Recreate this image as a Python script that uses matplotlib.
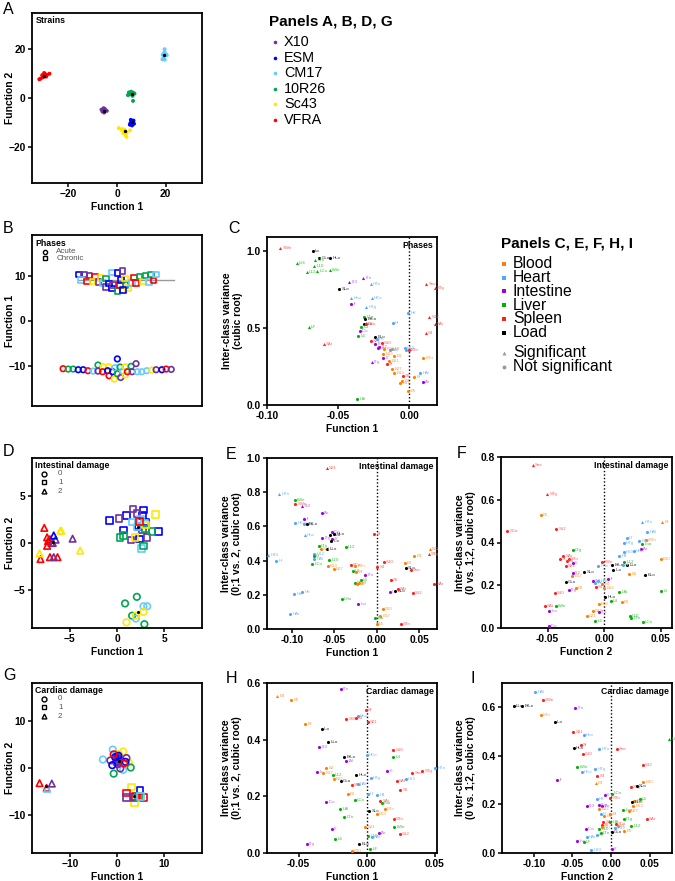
import numpy as np
import matplotlib.pyplot as plt

plt.rcParams['font.family'] = ['Liberation Sans', 'DejaVu Sans']
plt.rcParams['font.weight'] = 'bold'
plt.rcParams['axes.labelweight'] = 'bold'

# ---------------- categories / colours ----------------
strain_names = ['X10', 'ESM', 'CM17', '10R26', 'Sc43', 'VFRA']
strain_colors = ['#7030A0', '#0000FF', '#66CCFF', '#00A651', '#FFE800', '#FF0000']
organ_names = ['Blood', 'Heart', 'Intestine', 'Liver', 'Spleen', 'Load']
organ_colors = ['#FF8000', '#4DA6FF', '#A000E0', '#00B400', '#FF2020', '#000000']
organ_text = ['#F7A050', '#7DB8F5', '#C070EE', '#40C040', '#FF6060', '#333333']

# ---------------- panel A: strains ----------------
a_strain = (['VFRA'] * 9 + ['CM17'] * 9 + ['10R26'] * 9 + ['X10'] * 8 + ['ESM'] * 8 + ['Sc43'] * 9)
a_x = [-32, -30.5, -30, -29.5, -28.8, -27.8, -29.2, -30.8, -31.5,
       19.6, 19.6, 18.8, 20.5, 19.2, 18.7, 19.7, 19.4, 20.2,
       5.2, 4.5, 5.8, 6.7, 7.2, 6.4, 6.6, 5.5, 4.9,
       -5.5, -6.4, -4.8, -5.3, -4.2, -6.0, -5.0, -5.6,
       5.7, 6.8, 5.5, 7.0, 6.2, 5.9, 6.6, 5.3,
       0.7, 1.8, 2.6, 3.6, 4.0, 5.4, 3.2, 3.9, 2.4]
a_y = [7.7, 8.5, 10.3, 9.8, 9.5, 10.0, 8.8, 9.4, 8.0,
       20.1, 19.0, 17.8, 17.6, 16.5, 15.9, 15.8, 18.5, 18.0,
       1.5, 1.2, 2.6, 2.2, 1.8, 0.9, -1.2, 2.0, 2.3,
       -4.2, -4.8, -5.1, -6.0, -5.3, -5.6, -4.5, -5.4,
       -9.0, -9.3, -10.4, -10.6, -11.3, -9.8, -10.0, -11.0,
       -12.4, -13.0, -14.5, -15.3, -14.2, -13.3, -13.2, -16.0, -12.8]
a_cx = [-30, 19.4, 6.0, -5.2, 6.3, 3.5]
a_cy = [9.0, 17.9, 1.6, -5.2, -10.0, -13.5]

# ---------------- panel B: phases ----------------
b_chr_strain = ['ESM', 'X10', 'CM17', 'X10', 'VFRA', 'VFRA', 'Sc43', 'X10', 'Sc43', 'CM17',
                '10R26', 'X10', 'ESM', 'CM17', 'ESM', 'X10', 'ESM', '10R26', 'VFRA', 'ESM',
                'X10', '10R26', 'Sc43', 'Sc43', 'ESM', 'CM17', 'VFRA', 'VFRA', '10R26', 'Sc43',
                '10R26', 'CM17', '10R26', 'VFRA', 'CM17']
b_chr_pos = [.276, .307, .287, .337, .325, .370, .356, .390, .404, .419,
             .435, .435, .453, .469, .470, .478, .502, .502, .518, .522,
             .533, .549, .547, .565, .535, .589, .600, .612, .632, .652,
             .667, .687, .699, .715, .730]
b_chr_val = [10.19, 10.19, 8.99, 10.04, 8.69, 9.74, 8.69, 8.54, 9.44, 8.39,
             9.36, 7.49, 8.24, 10.64, 7.12, 7.94, 10.56, 6.52, 7.87, 9.06,
             11.01, 7.94, 9.36, 7.19, 6.74, 8.31, 9.59, 8.39, 9.81, 8.69,
             9.96, 8.61, 10.19, 8.84, 10.26]
b_acu_strain = ['VFRA', '10R26', '10R26', 'ESM', 'ESM', 'VFRA', 'CM17', '10R26', 'X10', 'Sc43',
                'VFRA', 'Sc43', 'ESM', 'VFRA', 'ESM', 'Sc43', 'CM17', 'ESM', '10R26', '10R26',
                'X10', 'CM17', 'Sc43', 'Sc43', 'VFRA', '10R26', 'X10', 'X10', 'CM17', 'CM17',
                'CM17', 'Sc43', 'X10', 'ESM', 'VFRA', 'X10']
b_acu_pos = [.183, .213, .242, .272, .301, .329, .360, .388, .388, .419,
             .415, .451, .445, .453, .474, .484, .488, .502, .502, .518,
             .522, .533, .549, .549, .561, .583, .589, .612, .620, .646,
             .675, .705, .730, .764, .789, .819]
b_acu_val = [-10.71, -10.79, -10.79, -10.94, -10.94, -11.16, -11.24, -9.89, -11.24, -10.26,
             -11.39, -10.26, -11.16, -12.28, -11.39, -13.03, -10.49, -8.54, -11.84, -10.34,
             -12.66, -11.24, -10.26, -12.13, -11.39, -10.19, -11.39, -9.59, -11.39, -11.39,
             -11.16, -11.01, -10.94, -10.94, -10.79, -10.86]
b_line = [0.276, 0.837, 9.0]

# ---------------- panel D: intestinal damage ----------------
d_strain = (['VFRA'] * 9 + ['Sc43'] * 4 + ['X10'] * 4 + ['ESM']
            + ['ESM'] * 10 + ['X10'] * 6 + ['CM17'] * 5 + ['10R26'] * 5 + ['Sc43'] * 3 + ['VFRA']
            + ['10R26'] * 4 + ['CM17'] * 3 + ['Sc43'] * 3)
d_dmg = [2] * 18 + [1] * 30 + [0] * 10
d_x = [-7.7, -8.1, -7.1, -7.4, -7.3, -7.1, -6.95, -6.3, -7.4,
       -8.2, -6.0, -5.9, -3.9, -6.7, -6.5, -4.7, -6.8, -6.7,
       -0.8, 1.0, 0.7, 2.7, 2.8, 3.0, 2.3, 2.4, 4.4, 2.2,
       0.2, 1.7, 2.1, 1.5, 2.7, 3.2,
       1.6, 2.5, 2.6, 2.9, 2.1,
       0.3, 3.7, 2.8, 0.7, 3.0,
       4.1, 1.9, 3.0, 2.4,
       0.85, 2.1, 1.6, 2.9, 2.0, 2.8, 3.2, 1.0, 2.8, 2.0]
d_y = [1.6, -1.7, -1.5, 0.6, 0.2, 0.4, 0.0, -1.5, -0.3,
       -1.1, 1.3, 1.3, -0.8, -1.5, 0.35, 0.46, 0.0, 0.8,
       2.4, 2.9, 1.4, 2.9, 3.5, 2.2, 1.8, 0.4, 1.2, 1.7,
       2.6, 3.6, 3.1, 0.3, 1.4, 0.6,
       2.2, 2.5, -0.6, 2.1, 1.7,
       0.6, 1.2, -0.3, 0.8, 1.5,
       3.0, 0.6, 1.9, 2.3,
       -6.4, -5.7, -7.7, -8.6, -8.0, -6.7, -6.7, -8.4, -7.3, -7.7]
d_cx = [-6.8, 2.2, 2.2]
d_cy = [0.1, 1.7, -7.3]

# ---------------- panel G: cardiac damage ----------------
g_strain = (['VFRA', 'VFRA', 'CM17', 'X10']
            + ['Sc43', 'Sc43', 'ESM', 'VFRA', 'VFRA', 'VFRA', 'X10', 'X10', '10R26', 'CM17']
            + ['CM17'] * 4 + ['Sc43'] * 3 + ['10R26'] * 3 + ['X10'] * 9 + ['ESM'] * 4 + ['VFRA'] * 2)
g_dmg = [2] * 4 + [1] * 10 + [0] * 25
g_x = [-16.4, -14.9, -14.8, -13.8,
       3.1, 3.7, 4.9, 2.0, 5.6, 3.9, 2.0, 3.6, 4.5, 5.0,
       -0.9, -3.0, 1.3, 0.0, 1.3, 2.5, 0.4, 2.9, -0.7, 0.2,
       2.0, -1.4, 0.7, 0.1, 0.4, 0.2, -0.2, 0.6, 0.0,
       1.8, -0.4, -1.0, 0.3, -0.7, 1.5]
g_y = [-3.2, -4.2, -4.4, -3.3,
       -4.0, -7.4, -4.8, -5.3, -6.2, -6.0, -6.2, -6.3, -6.0, -6.0,
       3.9, 1.8, -0.4, 0.9, 3.5, 1.1, 3.0, 0.1, -1.2, 1.9,
       2.1, 1.6, -0.1, 1.5, 2.0, 0.8, 1.2, 1.6, 2.4,
       1.3, 2.3, 0.6, 2.6, 2.9, 1.0]
g_cx = [-15.0, 3.7, 0.36]
g_cy = [-3.8, -5.9, 1.4]

# ---------------- panel C: phases variables ----------------
c_lab = ['SWe', 'Lo', 'GLo', 'HLo', 'LTn', 'LHi', 'L10', 'L12', 'LCo', 'LWe', 'I10', 'ITn', 'HTn',
         'SLo', 'Hno', 'If', 'HCo', 'HTg', 'LTg', 'BrLo', 'LLo', 'SCo', 'LF', 'L4', 'ICo', 'L6',
         'SAr', 'ELo', 'S21', 'H8', 'I8', 'Ino', 'I12', 'S10', 'B22', 'B8', 'B23', 'HAl', 'B1',
         'I2', 'B21', 'ITg', 'Sf', 'B27', 'B13', 'S6', 'B4', 'B17', 'B5', 'LAi', 'HIf', 'HI',
         'H10', 'H4', 'STn', 'Sno', 'STg', 'S12', 'SAi', 'S4', 'BTn', 'HAi', 'Bf', 'IAr']
c_x = [-0.0908, -0.0678, -0.0632, -0.0556, -0.066, -0.0791, -0.0669, -0.0721, -0.0648, -0.0561,
       -0.0425, -0.0326, -0.0272, -0.0493, -0.0411, -0.0411, -0.0265, -0.0303, -0.0317, -0.0312,
       -0.0322, -0.0308, -0.0707, -0.0338, -0.035, -0.0362, -0.0603, -0.024, -0.0272, -0.023,
       -0.024, -0.0223, -0.0214, -0.0195, -0.0176, -0.0122, -0.0185, -0.0138, -0.0108, -0.0185,
       -0.0141, -0.0265, -0.016, -0.0122, -0.0106, -0.0047, -0.0052, -0.0066, -0.0009, -0.0366,
       -0.0009, -0.0117, -0.0035, -0.0026, -0.0005, 0.0117, 0.0176, 0.0138, 0.0176, 0.0113,
       0.0096, 0.0077, 0.0035, 0.0092]
c_y = [1.022, 1.0, 0.955, 0.959, 0.944, 0.924, 0.903, 0.868, 0.870, 0.877,
       0.797, 0.827, 0.788, 0.756, 0.693, 0.659, 0.693, 0.639, 0.570, 0.560,
       0.529, 0.527, 0.510, 0.510, 0.484, 0.451, 0.397, 0.443, 0.417, 0.428,
       0.395, 0.369, 0.376, 0.402, 0.363, 0.365, 0.335, 0.356, 0.318, 0.307,
       0.287, 0.283, 0.266, 0.233, 0.205, 0.186, 0.155, 0.143, 0.089, 0.041,
       0.596, 0.536, 0.374, 0.359, 0.359, 0.786, 0.758, 0.570, 0.527, 0.467,
       0.305, 0.207, 0.181, 0.147]
c_sig = ['SWe', 'LTn', 'LHi', 'L10', 'L12', 'LCo', 'LWe', 'ITn', 'I10', 'HTn', 'LF', 'SAr',
         'ITg', 'Sno', 'STg', 'S12', 'SAi', 'S4', 'HCo', 'HTg', 'Hno']

# ---------------- panel E: intestinal damage (0;1 vs 2) ----------------
e_lab = ['S21', 'HTn', 'LWe', 'SWe', 'I10', 'IAr', 'HCo', 'If', 'HTg', 'BrLo', 'Hno', 'ITg', 'ICo',
         'GLo', 'HLo', 'I2', 'ILo', 'LLo', 'L12', 'LTn', 'B21', 'H12', 'HAl', 'Lf', 'H10', 'Hf',
         'L10', 'LCo', 'B13', 'B27', 'SCo', 'BTn', 'L4', 'Bf', 'ITn', 'L6', 'LTg', 'B8', 'B2',
         'LHo', 'Ino', 'Hd', 'H6', 'HAr', 'LAi', 'B5', 'B17', 'B10', 'STn', 'Sf', 'S4', 'S10',
         'B1', 'B22', 'B4', 'STg', 'SLo', 'Sno', 'S6', 'ELo', 'SAi', 'Il', 'S12', 'SAr']
e_x = [-0.0588, -0.1152, -0.0967, -0.0959, -0.088, -0.0651, -0.0963, -0.0856, -0.086, -0.0829,
       -0.0848, -0.0643, -0.0533, -0.0549, -0.0501, -0.0525, -0.0541, -0.0588, -0.0367, -0.0683,
       -0.0663, -0.0738, -0.0738, -0.0746, -0.1283, -0.1184, -0.0564, -0.0762, -0.058, -0.0509,
       -0.0308, -0.0253, -0.0284, -0.0245, -0.0134, -0.0189, -0.026, -0.0209, -0.0233, -0.0414,
       -0.0217, -0.0975, -0.088, -0.1022, -0.002, 0.0, 0.0043, 0.0071, 0.0284, -0.0032,
       0.0008, 0.0083, 0.0328, 0.0624, 0.0442, 0.0612, 0.0339, 0.0399, 0.0162, 0.0217,
       0.0249, 0.015, 0.0426, 0.068]
e_y = [0.939, 0.792, 0.753, 0.733, 0.718, 0.676, 0.618, 0.641, 0.614, 0.612,
       0.549, 0.533, 0.567, 0.547, 0.553, 0.524, 0.512, 0.465, 0.480, 0.484,
       0.469, 0.439, 0.412, 0.425, 0.431, 0.400, 0.402, 0.380, 0.371, 0.351,
       0.373, 0.367, 0.337, 0.333, 0.318, 0.284, 0.269, 0.269, 0.263, 0.176,
       0.147, 0.206, 0.216, 0.090, 0.063, 0.031, 0.078, 0.116, 0.029, 0.555,
       0.365, 0.392, 0.386, 0.465, 0.425, 0.439, 0.355, 0.343, 0.286, 0.225,
       0.231, 0.214, 0.210, 0.265]
e_sig = ['S21', 'HTn', 'I10', 'Hno', 'H10', 'B22', 'STg']

# ---------------- panel F: intestinal damage (0 vs 1;2) ----------------
f_lab = ['Sno', 'STg', 'B5', 'SCo', 'S12', 'LTg', 'SAi', 'STn', 'Sf', 'S6', 'S21', 'I6', 'I12',
         'B17', 'SLo', 'GLo', 'B8', 'S10', 'ITg', 'Hno', 'SWe', 'I10', 'HAi', 'H6', 'S4', 'B4',
         'B22', 'If', 'HLo', 'B13', 'B27', 'B21', 'ITn', 'L6', 'SAr', 'LWe', 'Ino', 'ICo', 'BrLo',
         'L12', 'ILo', 'LLo', 'HI', 'B2', 'ELo', 'LAi', 'L4', 'B1', 'L10', 'LTn', 'LCo', 'Lf',
         'Bf', 'HTn', 'HAl', 'BTn', 'Lno', 'H12', 'Hf', 'HTg', 'IAr', 'HCo', 'H10', 'H4', 'B10']
f_x = [-0.0632, -0.0503, -0.0559, -0.0853, -0.0421, -0.0279, -0.0362, -0.0312, -0.0391, -0.0332,
       -0.0341, -0.0279, -0.0279, -0.0282, -0.0176, -0.0341, -0.0253, -0.0435, -0.0312, -0.0053,
       -0.0024, -0.0103, -0.0053, -0.0079, -0.0074, -0.0018, 0.0, 0.0035, 0.0009, -0.005,
       -0.0103, -0.0156, -0.005, -0.0079, -0.0524, -0.0429, -0.0485, -0.0488, 0.0071, 0.0176,
       0.0079, 0.0203, 0.0162, 0.0218, 0.0362, 0.0132, 0.0056, 0.0153, 0.0226, 0.0235,
       0.0338, 0.05, 0.0512, 0.0335, 0.0379, 0.0368, 0.0335, 0.0309, 0.0197, 0.0171,
       0.0321, 0.0259, 0.0171, 0.0132, 0.0497]
f_y = [0.764, 0.628, 0.529, 0.454, 0.463, 0.366, 0.335, 0.324, 0.323, 0.315,
       0.288, 0.304, 0.257, 0.242, 0.262, 0.214, 0.189, 0.165, 0.176, 0.288,
       0.309, 0.218, 0.218, 0.209, 0.190, 0.206, 0.189, 0.229, 0.147, 0.114,
       0.080, 0.058, 0.073, 0.034, 0.104, 0.101, 0.080, 0.008, 0.296, 0.307,
       0.273, 0.293, 0.296, 0.254, 0.249, 0.167, 0.125, 0.123, 0.055, 0.047,
       0.027, 0.172, 0.494, 0.494, 0.451, 0.413, 0.393, 0.409, 0.421, 0.398,
       0.370, 0.359, 0.356, 0.335, 0.323]
f_sig = ['Sno', 'STg', 'Bf', 'HTn']

# ---------------- panel H: cardiac damage (0;1 vs 2) ----------------
h_lab = ['B4', 'B5', 'ITn', 'Bf', 'ILo', 'LLo', 'I10', 'BrLo', 'IAl', 'Ie', 'B2', 'B17', 'L12',
         'B22', 'GLo', 'SCo', 'HLo', 'HAl', 'B6', 'ICo', 'LCo', 'LAl', 'LTn', 'B21', 'I2', 'L6',
         'ITg', 'B10', 'ELo', 'LF', 'Hno', 'SWe', 'S4', 'Sf', 'S21', 'HCo', 'HTg', 'Hf', 'H4',
         'SAi', 'Lno', 'S10', 'L4', 'I6', 'SAl', 'S6', 'Sno', 'H12', 'HTn', 'STg', 'BTn', 'STn',
         'SLo', 'B13', 'LWe', 'S12', 'IAr', 'L10', 'HAr']
h_x = [-0.066, -0.0557, -0.0191, -0.0452, -0.033, -0.0281, -0.035, -0.0164, -0.0149, -0.0362,
       -0.0298, -0.0318, -0.0249, -0.0242, -0.0191, -0.011, -0.0078, -0.0066, -0.0139, -0.0298,
       -0.0088, -0.0196, -0.0166, -0.0012, -0.0257, -0.0232, -0.044, -0.011, -0.0056, 0.0027,
       -0.0066, -0.0149, -0.0078, -0.0005, 0.0007, 0.0, 0.0029, 0.0007, 0.0076, 0.01,
       0.011, 0.0196, 0.0196, 0.0152, 0.0222, 0.0247, 0.0337, 0.0289, 0.0506, 0.0411,
       0.0134, 0.0198, 0.002, 0.0073, 0.0203, 0.0244, 0.009, 0.0012, 0.0037]
h_y = [0.553, 0.539, 0.578, 0.454, 0.436, 0.392, 0.374, 0.339, 0.324, 0.286,
       0.300, 0.284, 0.274, 0.260, 0.254, 0.239, 0.274, 0.242, 0.209, 0.180,
       0.188, 0.154, 0.127, 0.092, 0.086, 0.051, 0.033, 0.006, 0.033, 0.015,
       0.482, 0.472, 0.476, 0.506, 0.462, 0.345, 0.265, 0.207, 0.204, 0.184,
       0.178, 0.362, 0.339, 0.288, 0.254, 0.221, 0.284, 0.262, 0.301, 0.288,
       0.154, 0.121, 0.148, 0.136, 0.092, 0.068, 0.072, 0.061, 0.056]
h_sig = ['B4']

# ---------------- panel I: cardiac damage (0 vs 1;2) ----------------
i_lab = ['HAl', 'LLo', 'BrLo', 'SWe', 'BTn', 'ILo', 'ITn', 'S21', 'Hno', 'Sf', 'HLo', 'HTn', 'S10',
         'Sno', 'LWe', 'HTg', 'HCo', 'If', 'S4', 'B4', 'S12', 'B10', 'STg', 'SLo', 'Lf', 'LCo',
         'B21', 'L6', 'ELo', 'B13', 'Lno', 'B27', 'STn', 'I6', 'H8', 'I10', 'ITg', 'IAr', 'B22',
         'B6', 'Bf', 'Hf', 'SAr', 'LTg', 'L12', 'SAi', 'S6', 'LAl', 'SCo', 'B1', 'B5', 'H12',
         'L10', 'B17', 'GLo', 'ICo', 'HAr', 'HI', 'LTn', 'Ino', 'LF', 'H10', 'I2']
i_x = [-0.0978, -0.1261, -0.1152, -0.0883, -0.0909, -0.0726, -0.0465, -0.0491, -0.0352, -0.0391,
       -0.0483, -0.0157, -0.0365, 0.0074, -0.0435, -0.0204, -0.0378, -0.0696, -0.0178, -0.02,
       0.0409, 0.0413, 0.0252, 0.0335, 0.0748, 0.0009, 0.0296, 0.037, 0.0274, 0.0283,
       0.0157, 0.0226, -0.0009, -0.0083, -0.0187, -0.0317, -0.0161, -0.0113, -0.0152, -0.0091,
       -0.0013, -0.0135, 0.0465, 0.0161, 0.0257, -0.01, -0.0122, -0.0013, 0.0061, 0.0087,
       0.017, 0.0052, -0.0152, -0.0122, 0.0009, -0.0326, -0.0317, -0.0187, -0.0135, -0.0435,
       -0.0352, -0.0257, 0.0009]
i_y = [0.662, 0.604, 0.604, 0.632, 0.570, 0.540, 0.597, 0.500, 0.484, 0.443,
       0.432, 0.427, 0.406, 0.429, 0.355, 0.347, 0.335, 0.299, 0.319, 0.290,
       0.364, 0.293, 0.271, 0.276, 0.468, 0.245, 0.215, 0.224, 0.211, 0.193,
       0.178, 0.172, 0.228, 0.238, 0.224, 0.194, 0.197, 0.194, 0.183, 0.153,
       0.161, 0.159, 0.142, 0.142, 0.112, 0.126, 0.116, 0.126, 0.119, 0.112,
       0.092, 0.101, 0.098, 0.108, 0.085, 0.098, 0.067, 0.075, 0.082, 0.049,
       0.046, 0.011, 0.016]
i_sig = ['Lf', 'B4']

# ======================================================================
fig = plt.figure(figsize=(6.75, 8.81), dpi=100)
W, H = 675.0, 881.0


def rect(l, t, r, b):
    return [l / W, 1 - b / H, (r - l) / W, (b - t) / H]


def style(ax, ylab_x):
    for s in ax.spines.values():
        s.set_linewidth(1.3)
    ax.tick_params(direction='out', length=3, width=1.1, labelsize=7.4, pad=1.5,
                   top=False, right=False)
    ax.xaxis.label.set_size(7.4)
    ax.yaxis.label.set_size(7.4)
    ax.xaxis.labelpad = 2
    ax.yaxis.set_label_coords(ylab_x, 0.5)


scol = dict(zip(strain_names, strain_colors))


def organ_idx(lab):
    if lab.endswith('Lo'):
        return 5
    return 'BHILS'.index(lab[0])


# ---- A
ax = fig.add_axes(rect(32, 13, 202, 183))
ax.scatter(a_x, a_y, s=8, c=[scol[s] for s in a_strain], linewidths=0)
ax.scatter(a_cx, a_cy, s=6, c='k', linewidths=0, zorder=3)
ax.set_xlim(-35, 35)
ax.set_ylim(-35, 35)
ax.set_xticks([-20, 0, 20])
ax.set_yticks([-20, 0, 20])
ax.set_xlabel('Function 1')
ax.set_ylabel('Function 2')
ax.text(0.02, 0.985, 'Strains', transform=ax.transAxes, fontsize=6.3, va='top')
style(ax, -0.1)

# ---- B
ax = fig.add_axes(rect(32, 235, 202, 406))
ax.plot(b_line[:2], [b_line[2]] * 2, color='#999999', lw=1, zorder=1)
ax.scatter(b_chr_pos, b_chr_val, s=16, marker='s', facecolors='none',
           edgecolors=[scol[s] for s in b_chr_strain], linewidths=1.2, zorder=2)
ax.scatter(b_acu_pos, b_acu_val, s=16, marker='o', facecolors='none',
           edgecolors=[scol[s] for s in b_acu_strain], linewidths=1.2, zorder=2)
ax.set_xlim(0, 1)
ax.set_ylim(-19, 19)
ax.set_xticks([])
ax.set_yticks([-10, 0, 10])
ax.set_ylabel('Function 1')
ax.text(0.02, 0.975, 'Phases', transform=ax.transAxes, fontsize=6.3, va='top')
for yy, mk, lab in [(0.903, 'o', 'Acute'), (0.864, 's', 'Chronic')]:
    ax.plot([0.079], [yy], marker=mk, ms=3, mfc='none', mec='k', mew=1, transform=ax.transAxes)
    ax.text(0.144, yy, lab, transform=ax.transAxes, fontsize=5.8, va='center',
            fontweight='normal', color='#555555')
style(ax, -0.1)


def damage_panel(ax, xs, ys, strains, dmg, cx, cy, title):
    mk = {0: 'o', 1: 's', 2: '^'}
    for k in [0, 1, 2]:
        idx = [i for i in range(len(xs)) if dmg[i] == k]
        ax.scatter([xs[i] for i in idx], [ys[i] for i in idx], s=22, marker=mk[k],
                   facecolors='none', edgecolors=[scol[strains[i]] for i in idx],
                   linewidths=1.2, zorder=2)
    ax.scatter(cx, cy, s=5, c='k', linewidths=0, zorder=3)
    ax.text(0.02, 0.985, title, transform=ax.transAxes, fontsize=6.3, va='top')
    for yy, k in [(0.906, 0), (0.857, 1), (0.804, 2)]:
        ax.plot([0.07], [yy], marker=mk[k], ms=3.5, mfc='none', mec='k', mew=1,
                transform=ax.transAxes)
        ax.text(0.153, yy, str(k), transform=ax.transAxes, fontsize=5.8, va='center',
                fontweight='normal', color='#555555')
    ax.set_xlabel('Function 1')
    ax.set_ylabel('Function 2')


# ---- D
ax = fig.add_axes(rect(32, 458, 202, 628))
damage_panel(ax, d_x, d_y, d_strain, d_dmg, d_cx, d_cy, 'Intestinal damage')
ax.set_xlim(-9, 9)
ax.set_ylim(-9, 9)
ax.set_xticks([-5, 0, 5])
ax.set_yticks([-5, 0, 5])
style(ax, -0.1)

# ---- G
ax = fig.add_axes(rect(32, 683, 202, 853))
damage_panel(ax, g_x, g_y, g_strain, g_dmg, g_cx, g_cy, 'Cardiac damage')
ax.set_xlim(-18, 18)
ax.set_ylim(-18, 18)
ax.set_xticks([-10, 0, 10])
ax.set_yticks([-10, 0, 10])
style(ax, -0.1)


def var_panel(ax, labs, xs, ys, sig, title, xlab, ylab):
    for lab, x, y in zip(labs, xs, ys):
        o = organ_idx(lab)
        ax.scatter([x], [y], s=5, marker='^' if lab in sig else 'o',
                   color=organ_colors[o], linewidths=0, zorder=3, clip_on=False)
        ax.annotate(lab, (x, y), xytext=(1.6, 0), textcoords='offset points',
                    fontsize=3.2, color=organ_text[o], va='center', fontweight='normal',
                    annotation_clip=False)
    ax.axvline(0, color='k', lw=1, ls=(0, (1, 1.5)), zorder=1)
    ax.text(0.98, 0.975, title, transform=ax.transAxes, fontsize=6.3, va='top', ha='right')
    ax.set_xlabel(xlab)
    ax.set_ylabel(ylab, linespacing=1.1)
    ax.xaxis.set_major_formatter(plt.FormatStrFormatter('%.2f'))
    ax.yaxis.set_major_formatter(plt.FormatStrFormatter('%.1f'))


# ---- C
ax = fig.add_axes(rect(267, 237, 437, 405))
var_panel(ax, c_lab, c_x, c_y, c_sig, 'Phases', 'Function 1',
          'Inter-class variance\n(cubic root)')
ax.set_xlim(-0.1, 0.0193)
ax.set_ylim(0, 1.093)
ax.set_xticks([-0.1, -0.05, 0.0])
ax.set_yticks([0, 0.5, 1.0])
style(ax, -0.14)

# ---- E
ax = fig.add_axes(rect(267, 458, 437, 629))
var_panel(ax, e_lab, e_x, e_y, e_sig, 'Intestinal damage', 'Function 1',
          'Inter-class variance\n(0;1 vs. 2, cubic root)')
ax.set_xlim(-0.1295, 0.071)
ax.set_ylim(0, 1.0)
ax.set_xticks([-0.1, -0.05, 0.0, 0.05])
ax.set_yticks(np.arange(0, 1.01, 0.2))
style(ax, -0.147)

# ---- F
ax = fig.add_axes(rect(501, 457, 672, 628))
var_panel(ax, f_lab, f_x, f_y, f_sig, 'Intestinal damage', 'Function 2',
          'Inter-class variance\n(0 vs. 1;2, cubic root)')
ax.set_xlim(-0.091, 0.0597)
ax.set_ylim(0, 0.8)
ax.set_xticks([-0.05, 0.0, 0.05])
ax.set_yticks(np.arange(0, 0.81, 0.2))
style(ax, -0.146)

# ---- H
ax = fig.add_axes(rect(267, 683, 437, 853))
var_panel(ax, h_lab, h_x, h_y, h_sig, 'Cardiac damage', 'Function 1',
          'Inter-class variance\n(0;1 vs. 2, cubic root)')
ax.set_xlim(-0.0733, 0.0518)
ax.set_ylim(0, 0.6)
ax.set_xticks([-0.05, 0.0, 0.05])
ax.set_yticks(np.arange(0, 0.61, 0.2))
style(ax, -0.147)

# ---- I
ax = fig.add_axes(rect(502, 683, 672, 853))
var_panel(ax, i_lab, i_x, i_y, i_sig, 'Cardiac damage', 'Function 2',
          'Inter-class variance\n(0 vs. 1;2, cubic root)')
ax.set_xlim(-0.141, 0.0788)
ax.set_ylim(0, 0.70)
ax.set_xticks([-0.1, -0.05, 0.0, 0.05])
ax.set_yticks(np.arange(0, 0.61, 0.2))
style(ax, -0.153)

# ---- overlay: legends and panel letters (pixel coordinates)
ov = fig.add_axes([0, 0, 1, 1])
ov.set_xlim(0, W)
ov.set_ylim(H, 0)
ov.axis('off')

ov.text(269, 21, 'Panels A, B, D, G', fontsize=11, va='center')
for i, (nm, col) in enumerate(zip(strain_names, strain_colors)):
    yy = 42 + i * 15.6
    ov.plot([275], [yy], marker='o', ms=2.6, color=col, mew=0)
    ov.text(284, yy, nm, fontsize=10.4, va='center', fontweight='normal')

ov.text(501, 244, 'Panels C, E, F, H, I', fontsize=11, va='center')
for i, (nm, col) in enumerate(zip(organ_names, organ_colors)):
    yy = 264 + i * 13.7
    ov.plot([504], [yy], marker='s', ms=2.6, color=col, mew=0)
    ov.text(513, yy, nm, fontsize=11.3, va='center', fontweight='normal')
ov.plot([504], [353], marker='^', ms=2.8, color='#999999', mew=0)
ov.text(513, 353, 'Significant', fontsize=11.3, va='center', fontweight='normal')
ov.plot([504], [367], marker='o', ms=2.8, color='#999999', mew=0)
ov.text(513, 367, 'Not significant', fontsize=11.3, va='center', fontweight='normal')

for let, lx, ly in [('A', 3, 2), ('B', 3, 221), ('C', 228, 221), ('D', 3, 444),
                    ('E', 226, 447), ('F', 457, 446), ('G', 3, 668), ('H', 226, 671),
                    ('I', 470, 671)]:
    ov.text(lx, ly, let, fontsize=11.5, fontweight='normal', va='top', ha='left')

fig.savefig('out.png', dpi=100)
